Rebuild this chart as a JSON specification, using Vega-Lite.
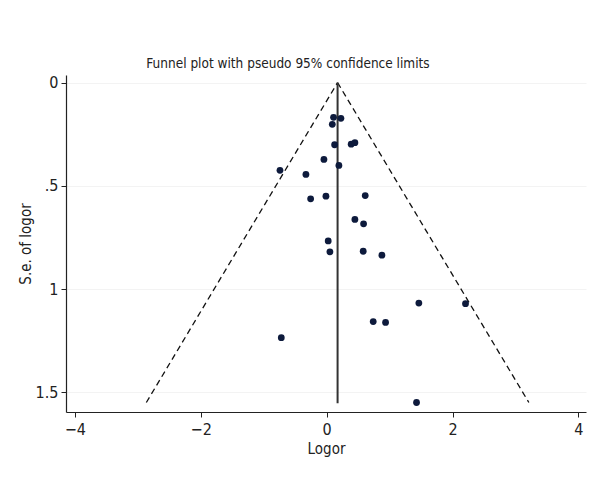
{
  "$schema": "https://vega.github.io/schema/vega-lite/v6.json",
  "autosize": {"type": "none"},
  "width": 520,
  "height": 337,
  "padding": {"left": 66, "top": 75, "right": 12, "bottom": 73},
  "background": "white",
  "title": {
    "text": "Funnel plot with pseudo 95% confidence limits",
    "font": "'DejaVu Sans Condensed', 'Liberation Sans Narrow', Roboto, sans-serif",
    "fontSize": 13.5,
    "fontWeight": "normal",
    "color": "#222222",
    "anchor": "middle",
    "dx": -38,
    "offset": 4
  },
  "config": {
    "view": {"stroke": null},
    "axis": {
      "labelFont": "'DejaVu Sans Condensed', 'Liberation Sans Narrow', Roboto, sans-serif",
      "titleFont": "'DejaVu Sans Condensed', 'Liberation Sans Narrow', Roboto, sans-serif",
      "labelFontSize": 16,
      "titleFontSize": 15,
      "titleFontWeight": "normal",
      "labelColor": "#222222",
      "titleColor": "#222222",
      "domainColor": "#222222",
      "tickColor": "#222222",
      "tickSize": 5,
      "domainWidth": 1.2,
      "tickWidth": 1
    }
  },
  "datasets": {
    "studies": [
      {"logor": 0.11, "se": 0.168},
      {"logor": 0.227, "se": 0.173},
      {"logor": 0.09, "se": 0.202},
      {"logor": 0.127, "se": 0.301},
      {"logor": 0.39, "se": 0.298},
      {"logor": 0.449, "se": 0.291},
      {"logor": -0.043, "se": 0.372},
      {"logor": 0.195, "se": 0.401},
      {"logor": -0.741, "se": 0.425},
      {"logor": -0.329, "se": 0.445},
      {"logor": 0.613, "se": 0.547},
      {"logor": -0.011, "se": 0.55},
      {"logor": -0.254, "se": 0.563},
      {"logor": 0.449, "se": 0.663},
      {"logor": 0.587, "se": 0.684},
      {"logor": 0.025, "se": 0.767},
      {"logor": 0.052, "se": 0.82},
      {"logor": 0.581, "se": 0.817},
      {"logor": 0.878, "se": 0.836},
      {"logor": 1.465, "se": 1.068},
      {"logor": 2.206, "se": 1.071},
      {"logor": 0.74, "se": 1.158},
      {"logor": 0.936, "se": 1.162},
      {"logor": -0.72, "se": 1.236},
      {"logor": 1.428, "se": 1.55}
    ],
    "funnel": [
      {"side": "lower", "logor": 0.174, "se": 0},
      {"side": "lower", "logor": -2.864, "se": 1.55},
      {"side": "upper", "logor": 0.174, "se": 0},
      {"side": "upper", "logor": 3.212, "se": 1.55}
    ],
    "pooled": [
      {"logor": 0.174, "se_top": 0, "se_bottom": 1.553}
    ]
  },
  "layer": [
    {
      "data": {"name": "funnel"},
      "mark": {"type": "line", "color": "#111111", "strokeWidth": 1.3, "strokeDash": [6, 4]},
      "encoding": {
        "x": {
          "field": "logor", "type": "quantitative",
          "scale": {"domain": [-4.14, 4.12], "nice": false, "zero": false},
          "axis": {"title": "Logor", "values": [-4, -2, 0, 2, 4], "format": "d", "grid": false, "labelPadding": 4, "titlePadding": 4}
        },
        "y": {
          "field": "se", "type": "quantitative",
          "scale": {"domain": [-0.037, 1.596], "nice": false, "zero": false, "reverse": true},
          "axis": {
            "title": "S.e. of logor",
            "values": [0, 0.5, 1, 1.5],
            "labelExpr": "datum.value == 0.5 ? '.5' : toString(datum.value)",
            "grid": true,
            "gridColor": "#f3f3f3",
            "labelPadding": 3,
            "titlePadding": 2
          }
        },
        "detail": {"field": "side"}
      }
    },
    {
      "data": {"name": "pooled"},
      "mark": {"type": "rule", "color": "#333333", "strokeWidth": 2},
      "encoding": {
        "x": {"field": "logor", "type": "quantitative"},
        "y": {"field": "se_top", "type": "quantitative"},
        "y2": {"field": "se_bottom"}
      }
    },
    {
      "data": {"name": "studies"},
      "mark": {"type": "point", "filled": true, "opacity": 1, "color": "#0d1a3c", "size": 46},
      "encoding": {
        "x": {"field": "logor", "type": "quantitative"},
        "y": {"field": "se", "type": "quantitative"}
      }
    }
  ]
}
